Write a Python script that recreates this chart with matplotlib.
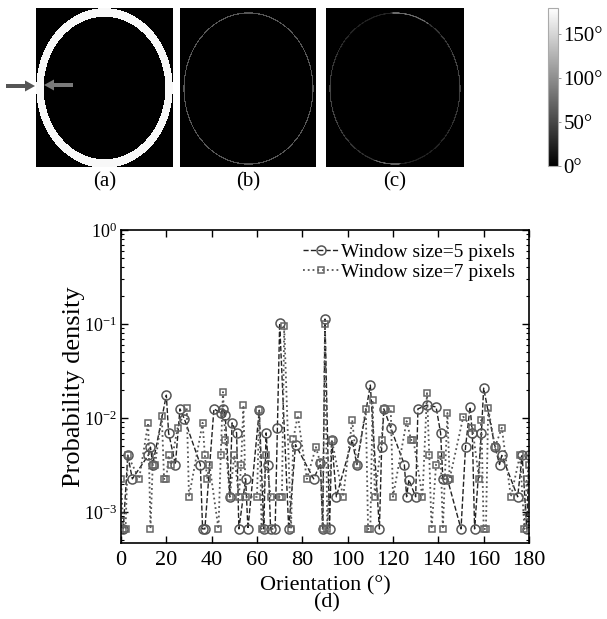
import numpy as np
import matplotlib
matplotlib.use('Agg')
import matplotlib.pyplot as plt
from matplotlib.patches import FancyArrow

plt.rcParams['font.family'] = ['Liberation Serif', 'DejaVu Serif']
plt.rcParams['mathtext.fontset'] = 'stix'

# orientation histograms (d)
x5 = [1, 3, 5, 12, 13, 14, 20, 21, 24, 26, 28, 35, 36, 37, 41, 44, 45, 46, 48, 49,
      51, 52, 55, 56, 61, 63, 64, 65, 66, 68, 69, 70, 74, 77, 85, 88, 89, 90, 92, 93,
      95, 102, 104, 110, 114, 115, 116, 119, 125, 126, 127, 130, 131, 135, 139, 141, 142, 144, 150, 152,
      154, 155, 156, 159, 160, 165, 167, 168, 175, 177, 179, 180]
p5 = [6.6e-4, 4.0e-3, 2.25e-3, 4.0e-3, 4.9e-3, 3.2e-3, 1.75e-2, 6.94e-3, 3.2e-3, 1.25e-2,
      9.7e-3, 3.2e-3, 6.6e-4, 6.6e-4, 1.25e-2, 1.13e-2, 1.25e-2, 1.07e-2, 1.45e-3, 8.88e-3,
      6.94e-3, 6.6e-4, 2.25e-3, 6.6e-4, 1.21e-2, 6.6e-4, 6.94e-3, 3.2e-3, 6.6e-4, 6.6e-4,
      7.86e-3, 0.102, 6.6e-4, 5.2e-3, 2.25e-3, 3.28e-3, 6.6e-4, 0.113, 6.6e-4, 5.84e-3,
      1.45e-3, 5.84e-3, 3.2e-3, 2.24e-2, 6.6e-4, 4.9e-3, 1.25e-2, 7.86e-3, 3.2e-3, 1.45e-3,
      2.2e-3, 1.45e-3, 1.25e-2, 1.37e-2, 1.31e-2, 6.94e-3, 2.25e-3, 2.25e-3, 6.6e-4, 4.9e-3,
      1.31e-2, 6.94e-3, 6.6e-4, 6.94e-3, 2.08e-2, 4.9e-3, 3.2e-3, 4.0e-3, 1.45e-3, 4.0e-3,
      6.6e-4, 4.0e-3]

x7 = [0, 1, 2, 3, 8, 12, 13, 14, 15, 18, 19, 20, 21, 22, 25, 29, 30, 36, 37, 38,
      39, 43, 44, 45, 46, 48, 50, 52, 53, 54, 55, 60, 61, 62, 64, 66, 70, 71, 72, 75,
      76, 78, 82, 86, 88, 89, 90, 91, 93, 98, 102, 104, 108, 109, 110, 111, 112, 115, 116, 119,
      120, 126, 128, 129, 133, 135, 136, 137, 139, 141, 142, 144, 145, 151, 155, 158, 159, 160, 161, 162,
      165, 168, 172, 176, 178, 179, 180]
p7 = [2.25e-3, 6.6e-4, 6.6e-4, 4.0e-3, 2.25e-3, 8.88e-3, 6.6e-4, 3.2e-3, 3.2e-3, 1.05e-2,
      2.25e-3, 2.25e-3, 4.0e-3, 3.2e-3, 7.86e-3, 1.28e-2, 1.45e-3, 8.88e-3, 4.0e-3, 2.25e-3,
      3.2e-3, 6.6e-4, 4.0e-3, 1.89e-2, 5.84e-3, 1.45e-3, 4.0e-3, 1.45e-3, 3.2e-3, 1.37e-2,
      1.45e-3, 1.45e-3, 1.21e-2, 6.6e-4, 4.0e-3, 1.45e-3, 1.45e-3, 1.45e-3, 0.0952, 6.6e-4,
      5.93e-3, 1.07e-2, 2.25e-3, 4.9e-3, 3.28e-3, 6.6e-4, 0.1, 6.6e-4, 5.84e-3, 1.45e-3,
      9.53e-3, 3.2e-3, 1.25e-2, 6.6e-4, 6.6e-4, 1.55e-2, 1.45e-3, 5.84e-3, 1.25e-2, 1.25e-2,
      1.45e-3, 9.25e-3, 5.84e-3, 5.84e-3, 1.45e-3, 1.84e-2, 4.0e-3, 6.6e-4, 3.2e-3, 4.0e-3,
      6.6e-4, 1.13e-2, 2.25e-3, 1.03e-2, 7.86e-3, 2.25e-3, 9.53e-3, 6.6e-4, 6.6e-4, 1.28e-2,
      4.9e-3, 7.86e-3, 1.45e-3, 4.0e-3, 6.6e-4, 2.25e-3, 3.2e-3]

xticks = list(range(0, 181, 20))
cbar_ticks = [0, 50, 100, 150]
panel_labels = ['(a)', '(b)', '(c)']


def ellipse_img(h, w, cx, cy, rx, ry, half_width, value):
    yy, xx = np.mgrid[0:h, 0:w] + 0.5
    d = np.sqrt(((xx - cx) / rx) ** 2 + ((yy - cy) / ry) ** 2)
    r = 0.5 * (rx + ry)
    img = np.zeros((h, w))
    img[np.abs(d - 1) * r < half_width] = 1
    return img * value, xx, yy


W, H = 607, 619
fig = plt.figure(figsize=(W / 100, H / 100), dpi=100)


def px_axes(x0, y0, x1, y1):
    return fig.add_axes([x0 / W, 1 - y1 / H, (x1 - x0) / W, (y1 - y0) / H])


# (a) thick ring
img_a, _, _ = ellipse_img(159, 137, 68.5, 80, 64.5, 75.5, 4.0, 175)
# (b) thin ring
img_b, _, _ = ellipse_img(159, 136, 68.5, 80.5, 64.5, 75.5, 0.6, 60)
# (c) thin ring, uneven
img_c, xc, yc = ellipse_img(159, 137, 68.5, 80.5, 64.5, 75.5, 0.6, 1)
ang = np.arctan2(yc - 80.5, xc - 68.5)
shade = 25 + 25 * np.cos(ang + 0.3) ** 2
shade[(ang < -1.1) & (ang > -1.6)] = 75
shade[(ang > 1.5) & (ang < 1.85)] = 70
img_c = img_c * shade

im = None
for i, (img, (x0, x1)) in enumerate(zip([img_a, img_b, img_c],
                                        [(36, 173), (180, 316), (326, 463)])):
    a = px_axes(x0, 8, x1, 167)
    im = a.imshow(img, cmap='gray', vmin=0, vmax=180, aspect='auto',
                  interpolation='bilinear')
    a.set_xticks([])
    a.set_yticks([])
    for s in a.spines.values():
        s.set_visible(False)
    fig.text((x0 + x1) / 2 / W, 1 - 182 / H, panel_labels[i], ha='center',
             va='center', fontsize=15)

cax = px_axes(548, 8, 558, 166)
cb = fig.colorbar(im, cax=cax, ticks=cbar_ticks)
cb.ax.set_yticklabels([f'{t}°' for t in cbar_ticks])
cb.ax.tick_params(labelsize=15, length=2, width=0.6, color='#888', pad=2)
cb.outline.set_edgecolor('#aaaaaa')
cb.outline.set_linewidth(0.8)

# arrows in (a)
ov = fig.add_axes([0, 0, 1, 1])
ov.set_xlim(0, W)
ov.set_ylim(H, 0)
ov.axis('off')
ov.add_patch(FancyArrow(6, 86, 29, 0, width=4, head_width=11, head_length=10,
                        length_includes_head=True, color='#555555', lw=0))
ov.add_patch(FancyArrow(73, 85, -29, 0, width=4, head_width=11, head_length=10,
                        length_includes_head=True, color='#7a7a7a', lw=0))

# (d) probability density
ax = px_axes(121, 230, 529, 543)
ax.plot(x5, p5, linestyle='--', color='#222222', lw=1.0, marker='o', ms=6.5,
        mfc='none', mec='#555555', mew=1.1, label='Window size=5 pixels')
ax.plot(x7, p7, linestyle=':', color='#555555', lw=1.3, marker='s', ms=5,
        mfc='none', mec='#666666', mew=1.1, label='Window size=7 pixels')
ax.set_yscale('log')
ax.set_xlim(0, 180)
ax.set_ylim(10 ** -3.33, 1)
ax.set_xticks(xticks)
ax.tick_params(which='both', direction='in', top=True, right=True)
ax.tick_params(which='major', length=5, width=1)
ax.tick_params(which='minor', length=2.5, width=0.8)
ax.tick_params(axis='x', labelsize=16, pad=6)
ax.tick_params(axis='y', labelsize=13, pad=3)
ax.set_xlabel('Orientation (°)', fontsize=16, labelpad=4)
ax.set_ylabel('Probability density', fontsize=19)
ax.yaxis.set_label_coords(-0.088, 0.5)
for s in ax.spines.values():
    s.set_linewidth(1.2)
ax.legend(loc='upper right', frameon=False, fontsize=14, handlelength=1.9,
          handletextpad=0.1, borderaxespad=0.3, labelspacing=0.12)

fig.text(327 / W, 1 - 603 / H, '(d)', ha='center', va='center', fontsize=16)

fig.savefig('out.png', dpi=100)
